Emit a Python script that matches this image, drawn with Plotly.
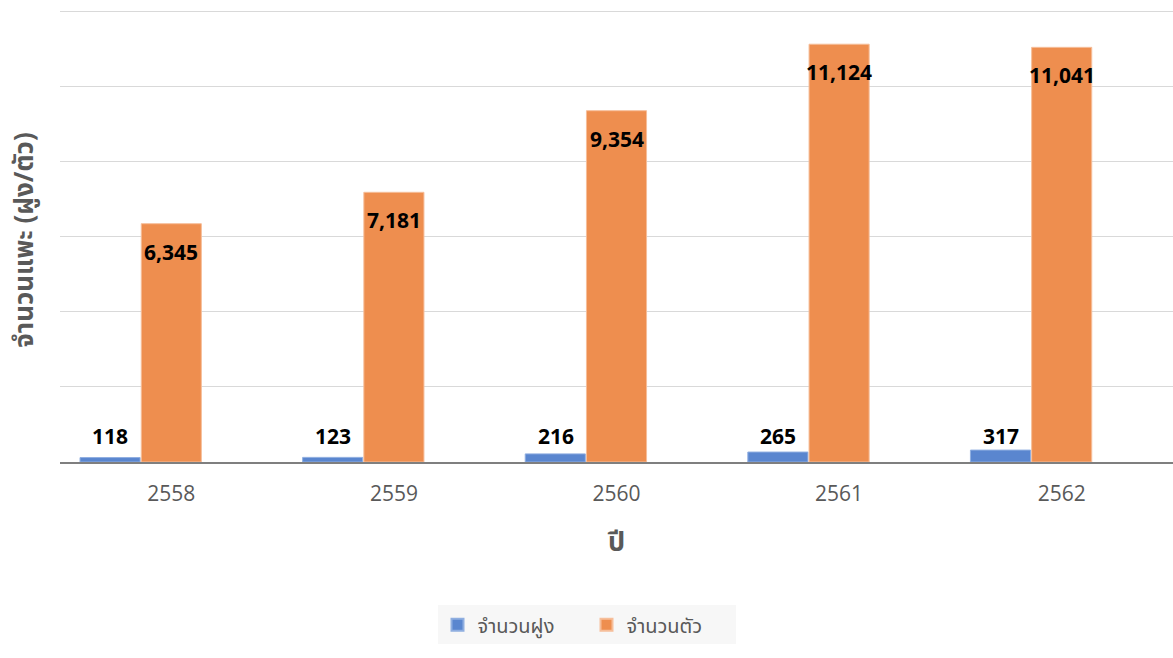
import plotly.graph_objects as go

years = ["2558", "2559", "2560", "2561", "2562"]
flocks = [118, 123, 216, 265, 317]
goats = [6345, 7181, 9354, 11124, 11041]
series_names = ["จำนวนฝูง", "จำนวนตัว"]
y_title = "จำนวนแพะ (ฝูง/ตัว)"
x_title = "ปี"

BLUE = "#5A86CF"
ORANGE = "#EE8E4F"
FONT = "Open Sans, Noto Sans, Noto Sans Thai, sans-serif"
BAR_W = 0.27

fig = go.Figure()
fig.add_trace(go.Bar(x=years, y=flocks, name=series_names[0],
                     width=BAR_W, offset=-0.41,
                     marker=dict(color=BLUE, line=dict(color="#8FAEE0", width=1))))
fig.add_trace(go.Bar(x=years, y=goats, name=series_names[1],
                     width=BAR_W, offset=-0.135,
                     marker=dict(color=ORANGE, line=dict(color="#F6BE9A", width=1))))

for i, v in enumerate(flocks):
    fig.add_annotation(x=i, y=0, text=f"<b>{v:,}</b>", showarrow=False,
                       xshift=-61, yshift=10, yanchor="bottom",
                       font=dict(size=21, color="#000000", family=FONT))
for i, v in enumerate(goats):
    fig.add_annotation(x=i, y=v, text=f"<b>{v:,}</b>", showarrow=False,
                       xshift=0, yshift=-12, yanchor="top",
                       font=dict(size=21, color="#000000", family=FONT))

fig.add_annotation(xref="paper", yref="paper", x=-0.034, y=0.49,
                   text=f"<b>{y_title}</b>", textangle=-90, showarrow=False,
                   xanchor="center", yanchor="middle",
                   font=dict(size=26, color="#595959", family=FONT))

fig.update_layout(
    width=1173, height=658,
    margin=dict(l=60, r=0, t=10, b=196, autoexpand=False),
    plot_bgcolor="white", paper_bgcolor="white",
    barmode="group",
    font=dict(family=FONT, color="#595959"),
    showlegend=True,
    legend=dict(orientation="h", xref="container", yref="container",
                x=0.5, xanchor="center", y=0.08, yanchor="top",
                bgcolor="#F7F7F7", font=dict(size=20, color="#595959"),
                itemsizing="constant", borderwidth=0, entrywidth=104),
    xaxis=dict(type="category", range=[-0.5, 4.5],
               showline=True, linecolor="#7F7F7F", linewidth=1.5,
               ticks="", tickfont=dict(size=21, color="#595959"),
               ticklabelstandoff=12, automargin=False,
               title=dict(text=f"<b>{x_title}</b>", standoff=26,
                          font=dict(size=27, color="#595959"))),
    yaxis=dict(range=[0, 12035], tick0=0, dtick=2000, showticklabels=False,
               showgrid=True, gridcolor="#D9D9D9", gridwidth=1,
               zeroline=False, automargin=False),
)

fig.write_html("out.html", config={"displayModeBar": False},
               post_script="document.body.style.margin='0';document.body.style.overflow='hidden';")
